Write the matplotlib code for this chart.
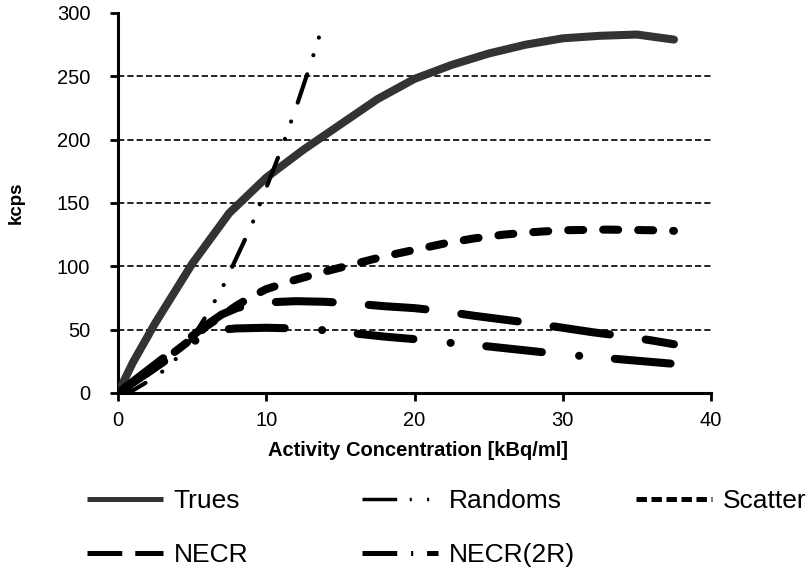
import matplotlib
matplotlib.use("Agg")
import matplotlib.pyplot as plt
from matplotlib.lines import Line2D

plt.rcParams.update({"font.family": ["Liberation Sans", "DejaVu Sans"], "lines.scale_dashes": False})

# values (kBq/ml -> kcps)
trues_x = [0, 1, 2.5, 5, 7.5, 10, 12.5, 15, 17.5, 20, 22.5, 25, 27.5, 30, 32.5, 35, 37.5]
trues_y = [0, 24, 55, 102, 142, 170, 192, 212, 232, 248, 259, 268, 275, 280, 282, 283, 279]

randoms_x = [0, 1, 2, 3, 4, 5, 6, 7, 8, 9, 10, 11, 12, 13, 13.8]
randoms_y = [0, 2, 9, 17, 28, 43, 62, 82, 107, 132, 162, 192, 225, 260, 290]

scatter_x = [0, 1, 2, 3, 4, 5, 6, 7, 8, 9, 10, 12, 14, 16, 18, 20, 22, 24, 26, 28, 30, 33, 36, 37.5]
scatter_y = [0, 8, 16, 25, 34, 43, 53, 61, 69, 76, 82, 89.5, 96, 102, 108, 113, 118, 122, 125, 127,
             128.5, 129, 128.5, 128]

necr_x = [0, 1, 2, 3, 4, 5, 6, 7, 8, 9, 10, 12, 14, 16, 18, 20, 22, 24, 26, 28, 30, 32, 34, 36, 37.5]
necr_y = [0, 9, 18, 27, 36, 45, 54, 62, 67, 70, 71.5, 72.5, 72, 70.5, 68.5, 67, 64.5, 61, 58, 55,
          51.5, 48, 45, 41.5, 38.5]

necr2r_x = [0, 1, 2, 3, 4, 5, 6, 7, 8, 10, 12, 14, 16, 18, 20, 22, 24, 26, 28, 30, 32, 34, 36, 37.5]
necr2r_y = [0, 8, 16, 24, 32, 40, 46, 50, 51, 51.5, 51, 49.5, 47, 44.5, 42.5, 40, 38, 35.5, 33, 30.5,
            28.5, 26.5, 24.5, 23]

GRAY, INK = "#333333", "#000000"
# colour, width, dash pattern in points (None = solid); second pattern is the legend's
styles = {
    "Trues": (GRAY, 5.8, None, None),
    "Randoms": (INK, 3.0, (0, (21.5, 14.4, 0.1, 13.2, 0.1, 14.4)), (0, (25, 9, 1.5, 11, 1.5, 11))),
    "Scatter": (INK, 5.8, (0, (10.8, 14.4)), (0, (7.5, 3.3))),
    "NECR": (INK, 5.8, (0, (41, 26)), (0, (25, 9.4))),
    "NECR(2R)": (INK, 5.8, (0, (40.3, 26.9, 0.1, 25.7)), (0, (25, 10, 1.5, 10))),
}
series = [("Trues", trues_x, trues_y), ("Randoms", randoms_x, randoms_y),
          ("Scatter", scatter_x, scatter_y), ("NECR", necr_x, necr_y),
          ("NECR(2R)", necr2r_x, necr2r_y)]

fig = plt.figure(figsize=(8.07, 5.72), dpi=100)
ax = fig.add_axes([118 / 807, 1 - 393 / 572, 593 / 807, 380 / 572])

for name, xs, ys in series:
    col, lw, ls, _ = styles[name]
    kw = dict(color=col, lw=lw, solid_capstyle="round", dash_capstyle="round",
              solid_joinstyle="round", zorder=3)
    if ls is not None:
        kw["linestyle"] = ls
    ax.plot(xs, ys, **kw)

ax.set_xlim(0, 40)
ax.set_ylim(0, 300)
ax.set_xticks(range(0, 41, 10))
ax.set_yticks(range(0, 301, 50))
ax.yaxis.grid(True, color=INK, lw=1.2, linestyle=(0, (4.5, 2.2)), zorder=1)
gl = ax.get_ygridlines()
gl[0].set_visible(False)
gl[-1].set_visible(False)
for s in ("top", "right"):
    ax.spines[s].set_visible(False)
for s in ("left", "bottom"):
    ax.spines[s].set_linewidth(2.2)
ax.tick_params(axis="both", direction="out", length=6, width=2, labelsize=14.5)
ax.tick_params(axis="y", pad=14)
ax.tick_params(axis="x", pad=7)

ax.set_xlabel("Activity Concentration [kBq/ml]", fontsize=14.5, fontweight="bold")
ax.xaxis.set_label_coords(0.506, -0.125)
ax.set_ylabel("kcps", fontsize=13.5, fontweight="bold")
ax.yaxis.set_label_coords(-0.158, 0.5)


def handle(name):
    col, lw, _, ls = styles[name]
    kw = dict(color=col, lw=3.6 if lw > 4 else 2.5, solid_capstyle="butt", dash_capstyle="butt")
    if ls is not None:
        kw["linestyle"] = ls
    return Line2D([], [], **kw)


columns = [(["Trues", "NECR"], 87), (["Randoms", "NECR(2R)"], 362), (["Scatter"], 636)]
for names, xpix in columns:
    fig.legend([handle(n) for n in names], names, loc="upper left",
               bbox_to_anchor=(xpix / 807, 1 - 489 / 572), frameon=False, fontsize=19,
               handlelength=2.88, handletextpad=0.4, labelspacing=1.15, borderpad=0,
               borderaxespad=0)

fig.savefig("out.png", dpi=100)
